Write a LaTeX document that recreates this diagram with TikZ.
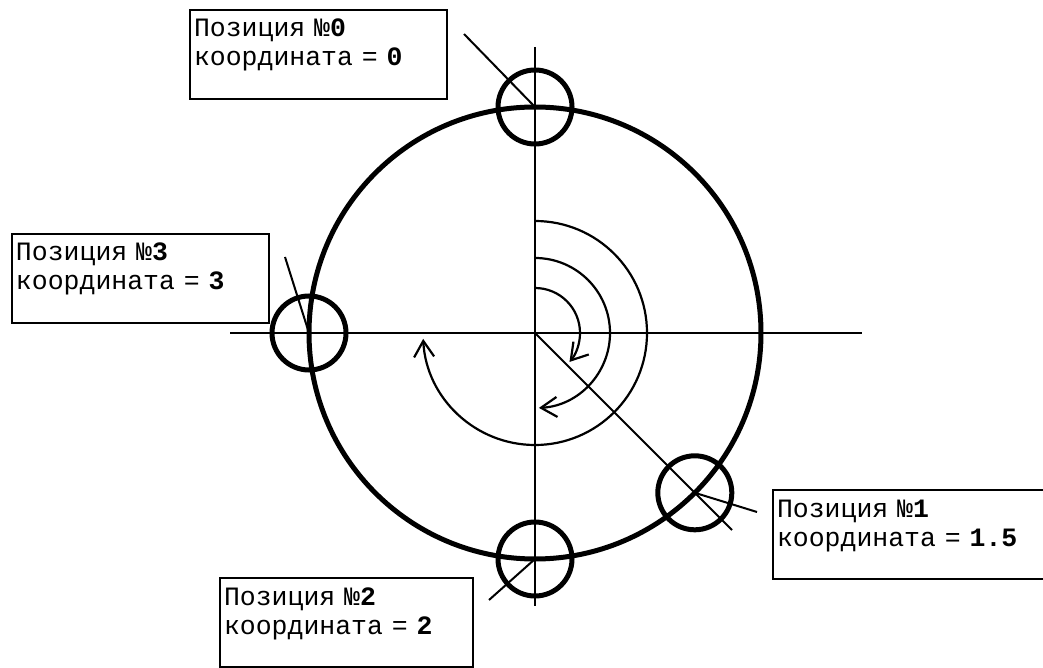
\documentclass[tikz,border=0pt]{standalone}
\usepackage{fontspec}
\newfontfamily\cour{Liberation Mono}
\usetikzlibrary{arrows.meta,calc}
\begin{document}
\begin{tikzpicture}[x=1pt,y=1pt,
  thinline/.style={line width=2pt},
  bigring/.style={line width=5pt},
  ring/.style={circle, draw, line width=5pt, minimum size=74pt, inner sep=0pt},
  box/.style={draw, line width=2pt, anchor=north west, text width=249pt, inner xsep=4pt, inner ysep=2pt, align=left, font=\cour\fontsize{26.5}{29}\selectfont},
  rot/.style={line width=2.2pt, -{Straight Barb[length=16pt, width=20pt]}}
]
\useasboundingbox (0,0) rectangle (1043,667);
\clip (0,0) rectangle (1043,667);

\coordinate (C) at (535,334);
% axes
\coordinate (vt) at (535,620);
\coordinate (vb) at (535,61);
\coordinate (hl) at (230,334);
\coordinate (hr) at (862,334);
\coordinate (dg) at (732,137);
\draw[thinline] (vt) -- (vb);
\draw[thinline] (hl) -- (hr);
\draw[thinline] (C) -- (dg);

% main circle
\draw[bigring] (C) circle[radius=226];

% position rings
\node[ring] (p0) at ($(C)+(90:226)$) {};
\node[ring] (p1) at ($(C)+(-45:226)$) {};
\node[ring] (p2) at ($(C)+(-90:226)$) {};
\node[ring] (p3) at ($(C)+(180:226)$) {};

% leaders
\coordinate (l0) at (464,633);
\coordinate (l1) at (757,155);
\coordinate (l2) at (489,67);
\coordinate (l3) at (285,410);
\draw[thinline] (l0) -- (p0.center);
\draw[thinline] (p1.center) -- (l1);
\draw[thinline] (l2) -- (p2.center);
\draw[thinline] (l3) -- (p3.center);

% rotation arcs
\draw[rot] ($(C)+(0,45)$) arc[start angle=90, end angle=-40, radius=45];
\draw[rot] ($(C)+(0,75)$) arc[start angle=90, end angle=-87, radius=75];
\draw[rot] ($(C)+(0,112)$) arc[start angle=90, end angle=-177, radius=112];

% boxes
\node[box] (b0) at (189,658) {\rule{0pt}{25pt}Позиция №\textbf{0}\\координата = \textbf{0}\\\rule[-2pt]{0pt}{2pt}};
\node[box] (b3) at (11,434) {\rule{0pt}{25pt}Позиция №\textbf{3}\\координата = \textbf{3}\\\rule[-2pt]{0pt}{2pt}};
\node[box, text width=290pt] (b1) at (772,178) {\rule{0pt}{25pt}Позиция №\textbf{1}\\координата = \textbf{1.5}\\\rule[-2pt]{0pt}{2pt}};
\node[box, text width=245pt] (b2) at (219,90) {\rule{0pt}{25pt}Позиция №\textbf{2}\\координата = \textbf{2}\\\rule[-2pt]{0pt}{2pt}};
\end{tikzpicture}
\end{document}
